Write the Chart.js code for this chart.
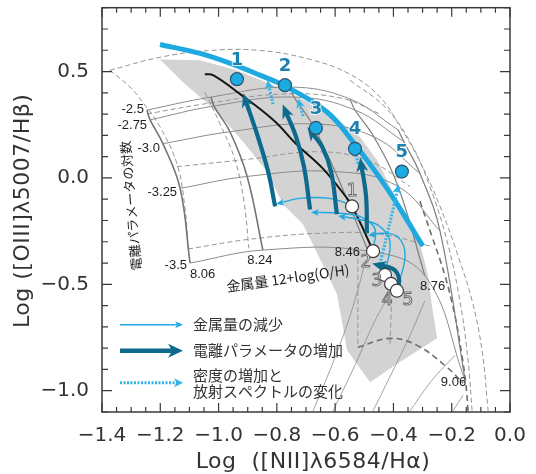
<!DOCTYPE html>
<html><head><meta charset="utf-8">
<script src="https://cdn.jsdelivr.net/npm/chart.js@4/dist/chart.umd.min.js"></script>
<style>html,body{margin:0;padding:0;background:#fff;overflow:hidden}#wrap{width:536px;height:474px}</style>
</head><body><div id="wrap"><canvas id="c" width="536" height="474"></canvas></div>
<script>
// ---------- data ----------
const xTickValues = [-1.4,-1.2,-1.0,-0.8,-0.6,-0.4,-0.2,0.0];
const yTickValues = [-1.0,-0.5,0.0,0.5];
const xTitle = 'Log  ([NII]λ6584/Hα)';
const yTitle = 'Log ([OIII]λ5007/Hβ)';

// shaded region (observed galaxies)
const shadeX = [-1.201,-1.064,-0.937,-0.772,-0.618,-0.515,-0.453,-0.395,-0.336,-0.302,-0.281,-0.268,-0.250,-0.395,-0.480,-0.559,-0.594,-0.652,-0.710,-0.779,-0.834,-0.916,-1.005,-1.122,-1.201];
const shadeY = [0.557,0.553,0.506,0.413,0.301,0.193,0.077,-0.087,-0.213,-0.344,-0.460,-0.600,-0.754,-0.880,-0.960,-0.810,-0.544,-0.381,-0.218,-0.124,0.030,0.170,0.310,0.450,0.557];

// photoionization grid: metallicity 12+log(O/H) x log ionization parameter
const gridZLabels = ['8.06','8.24','8.46','8.76','9.06'];
const gridULabels = ['-2.5','-2.75','-3.0','-3.25','-3.5'];
const gridNodeX = [
  [-1.246,-1.235,-1.191,-1.132,-1.098],
  [-1.026,-1.016,-0.961,-0.902,-0.848],
  [-0.755,-0.741,-0.679,-0.600,-0.487],
  [-0.549,-0.532,-0.467,-0.384,-0.292],
  [-0.384,-0.364,-0.309,-0.240,-0.154]];
const gridNodeY = [
  [0.319,0.273,0.161,-0.049,-0.400],
  [0.380,0.338,0.217,0.007,-0.339],
  [0.427,0.380,0.254,0.030,-0.344],
  [0.371,0.319,0.193,-0.040,-0.460],
  [0.226,0.170,0.021,-0.250,-0.951]];

// second (dashed) grid and other model curves
const dashLeftX = [-1.373,-1.304,-1.253,-1.201,-1.143,-1.115,-1.105];
const dashLeftY = [0.506,0.427,0.343,0.240,0.067,-0.143,-0.330];
const dashTopX = [-1.373,-1.201,-1.029,-0.858,-0.686,-0.549,-0.446,-0.377,-0.309,-0.240,-0.178,-0.130,-0.096,-0.075];
const dashTopY = [0.506,0.567,0.599,0.599,0.557,0.487,0.380,0.240,0.077,-0.134,-0.367,-0.577,-0.810,-1.095];
const dashMidX = [-1.047,-0.995,-0.944,-0.913,-0.896];
const dashMidY = [0.403,0.254,0.086,-0.110,-0.330];
const dashUaX = [-1.246,-1.029,-0.789,-0.583,-0.446];
const dashUaY = [0.301,0.352,0.394,0.376,0.301];
const dashUbX = [-1.143,-0.909,-0.652,-0.480,-0.343];
const dashUbY = [0.053,0.086,0.123,0.077,-0.040];
const dashUcX = [-1.105,-0.892,-0.652,-0.446,-0.275];
const dashUcY = [-0.334,-0.288,-0.260,-0.264,-0.320];
const dashRightX = [-0.549,-0.429,-0.343,-0.275,-0.216,-0.172,-0.144,-0.130];
const dashRightY = [0.459,0.333,0.170,-0.040,-0.297,-0.577,-0.857,-1.095];
const darkDashX = [-0.309,-0.268,-0.223,-0.189,-0.165,-0.151,-0.144];
const darkDashY = [-0.110,-0.274,-0.460,-0.647,-0.834,-0.974,-1.095];
const lowDashX = [-0.522,-0.412,-0.319,-0.216,-0.161];
const lowDashY = [-0.796,-0.754,-0.787,-0.890,-0.965];
const vDashX = [[-0.522,-0.522],[-0.405,-0.412]];
const vDashY = [[-0.344,-0.796],[-0.530,-0.787]];
const lowLinesX = [[-0.676,-0.618,-0.566,-0.528,-0.498],[-0.607,-0.532,-0.463,-0.405],[-0.470,-0.401,-0.343,-0.292],[-0.343,-0.268,-0.189],[-0.196,-0.161]];
const lowLinesY = [[-1.095,-0.904,-0.717,-0.554,-0.400],[-1.095,-0.880,-0.670,-0.530],[-1.095,-0.904,-0.740,-0.577],[-1.095,-0.951,-0.834],[-1.095,-1.021]];

// black track and thick blue upper curve
const trackX = [-1.047,-1.019,-0.926,-0.813,-0.731,-0.642,-0.559,-0.542,-0.508,-0.470];
const trackY = [0.487,0.483,0.394,0.273,0.156,0.044,-0.096,-0.134,-0.227,-0.344];
const upperX = [-1.201,-1.064,-0.951,-0.858,-0.765,-0.628,-0.539,-0.422,-0.299];
const upperY = [0.627,0.585,0.534,0.483,0.427,0.310,0.170,-0.049,-0.320];

// numbered points
const pointLabels = ['1','2','3','4','5'];
const modelX = [-0.937,-0.772,-0.666,-0.532,-0.371];
const modelY = [0.464,0.436,0.235,0.137,0.030];
const startX = [-0.542,-0.470,-0.429,-0.408,-0.388];
const startY = [-0.134,-0.344,-0.456,-0.498,-0.530];

// arrows: ionization parameter increase
const ionArrowsX = [[-0.806,-0.830,-0.865,-0.909],[-0.686,-0.707,-0.734,-0.772],[-0.594,-0.614,-0.645,-0.683],[-0.491,-0.494,-0.511],[-0.384,-0.381,-0.401,-0.453]];
const ionArrowsY = [[-0.134,0.030,0.193,0.371],[-0.148,0.053,0.193,0.319],[-0.171,0.030,0.147,0.217],[-0.260,-0.087,0.067],[-0.521,-0.470,-0.428,-0.409]];
// arrows: metallicity decrease
const metalArrowsX = [[-0.549,-0.618,-0.721,-0.796],[-0.470,-0.463,-0.508,-0.583,-0.676],[-0.429,-0.412,-0.453,-0.522,-0.583],[-0.388,-0.360,-0.384,-0.439,-0.480]];
const metalArrowsY = [[-0.124,-0.096,-0.096,-0.120],[-0.334,-0.241,-0.185,-0.166,-0.162],[-0.446,-0.297,-0.222,-0.194,-0.180],[-0.521,-0.367,-0.278,-0.260,-0.269]];
// arrows: density increase & spectrum change (dotted)
const densArrowsX = [[-0.446,-0.415,-0.384],[-0.813,-0.830],[-0.710,-0.724],[-0.522,-0.528]];
const densArrowsY = [[-0.404,-0.227,-0.045],[0.347,0.445],[0.291,0.357],[0.067,0.114]];
const densArrowHeads = [true,true,true,false];

const legendTexts = [['金属量の減少'],['電離パラメータの増加'],['密度の増加と','放射スペクトルの変化']];
const uAxisTitle = '電離パラメータの対数';
const zAxisTitle = '金属量 12+log(O/H)';

// ---------- styles ----------
const C_LIGHT = '#1fa9e1', C_DARK = '#0e6a8d', C_GRID = '#8a8a8a';
const pts = (xs, ys) => xs.map((x, i) => ({x, y: ys[i]}));
function line(xs, ys, o) {
  return Object.assign({data: pts(xs, ys), showLine: true, pointRadius: 0, pointHoverRadius: 0,
    borderWidth: 1, borderColor: C_GRID, tension: 0.4, fill: false}, o);
}
const layers = [];
layers.push(line(shadeX, shadeY, {fill: 'shape', backgroundColor: '#d3d3d3', borderWidth: 0, borderColor: 'rgba(0,0,0,0)', tension: 0}));
lowLinesX.forEach((xs, i) => layers.push(line(xs, lowLinesY[i], {borderWidth: 0.8, borderColor: '#8c8c8c'})));
[[dashLeftX, dashLeftY],[dashTopX, dashTopY],[dashMidX, dashMidY],[dashUaX, dashUaY],[dashUbX, dashUbY],[dashUcX, dashUcY],[dashRightX, dashRightY]]
  .forEach(([xs, ys]) => layers.push(line(xs, ys, {borderDash: [5, 3], borderColor: '#959595', borderWidth: 1})));
vDashX.forEach((xs, i) => layers.push(line(xs, vDashY[i], {borderDash: [5, 3], borderColor: '#959595', tension: 0})));
layers.push(line(darkDashX, darkDashY, {borderDash: [6, 4], borderColor: '#6e6e6e', borderWidth: 1.6}));
layers.push(line(lowDashX, lowDashY, {borderDash: [6, 4], borderColor: '#6e6e6e', borderWidth: 1.6}));
gridNodeX.forEach((row, i) => layers.push(line(row, gridNodeY[i], {borderWidth: i < 2 ? 1.6 : 1.2, borderColor: i < 2 ? '#747474' : '#7e7e7e'})));
gridULabels.forEach((u, j) => layers.push(line(gridNodeX.map(r => r[j]), gridNodeY.map(r => r[j]), {borderWidth: 1, borderColor: '#8c8c8c'})));
layers.push(line(trackX, trackY, {borderWidth: 2, borderColor: '#151515'}));
layers.push(line(upperX, upperY, {borderWidth: 5, borderColor: C_LIGHT}));
metalArrowsX.forEach((xs, i) => layers.push(line(xs, metalArrowsY[i], {borderWidth: 1.4, borderColor: C_LIGHT, arrowHead: {len: 8, w: 3.5, ext: 2, color: C_LIGHT}})));
densArrowsX.forEach((xs, i) => layers.push(line(xs, densArrowsY[i], {borderWidth: 3, borderDash: [2, 1.5], borderColor: '#35b2e6', tension: 0.3,
  arrowHead: densArrowHeads[i] ? {len: 9, w: 4.5, ext: 3, color: '#35b2e6'} : null})));
ionArrowsX.forEach((xs, i) => layers.push(line(xs, ionArrowsY[i], {borderWidth: 4.2, borderColor: C_DARK, arrowHead: {len: 14, w: 6, ext: 6, color: C_DARK}})));
layers.push({data: pts(startX, startY), showLine: false, pointRadius: 6.5, pointHoverRadius: 6.5, pointBackgroundColor: '#ffffff', pointBorderColor: '#3a3a3a', pointBorderWidth: 1.2});
layers.push({data: pts(modelX, modelY), showLine: false, pointRadius: 6.5, pointHoverRadius: 6.5, pointBackgroundColor: '#1caae3', pointBorderColor: '#2c5468', pointBorderWidth: 1.2});
layers.forEach((d, i) => { d.order = layers.length - i; });

// label placement styles (pixel offsets)
const uLabelDy = [-1, 6, 5, 4, 2];
const zLabelStyle = [{a: 'left', dx: 0, dy: 11}, {a: 'center', dx: -3, dy: 10}, {a: 'right', dx: -8, dy: 1}, {a: 'left', dx: -5, dy: 11}, {a: 'right', dx: 1, dy: 2}];
const startLabelOff = [[0, -15], [-7, 11], [-8, 7], [-4, 17], [11, 10]];

function head(ctx, x, y, ang, h) {
  const c = Math.cos(ang), s = Math.sin(ang);
  const tx = x + c * h.ext, ty = y + s * h.ext;
  const bx = tx - c * h.len, by = ty - s * h.len;
  const nx = tx - c * h.len * 0.72, ny = ty - s * h.len * 0.72;
  ctx.save(); ctx.fillStyle = h.color; ctx.beginPath();
  ctx.moveTo(tx, ty); ctx.lineTo(bx - s * h.w, by + c * h.w); ctx.lineTo(nx, ny); ctx.lineTo(bx + s * h.w, by - c * h.w);
  ctx.closePath(); ctx.fill(); ctx.restore();
}
const fmt = v => Math.abs(v) < 1e-9 ? '0.0' : (v < 0 ? '\u2212' : '') + Math.abs(v).toFixed(1);

const decor = {
  id: 'decor',
  afterDatasetDraw(chart, args) {
    const ds = chart.data.datasets[args.index];
    if (!ds.arrowHead) return;
    const p = args.meta.data, n = p.length, e = p[n - 1];
    let r = p[n - 2];
    if (e.cp1x !== undefined && Math.abs(e.cp1x - e.x) + Math.abs(e.cp1y - e.y) > 0.5) r = {x: e.cp1x, y: e.cp1y};
    head(chart.ctx, e.x, e.y, Math.atan2(e.y - r.y, e.x - r.x), ds.arrowHead);
  },
  afterDraw(chart) {
    const ctx = chart.ctx, a = chart.chartArea, sx = chart.scales.x, sy = chart.scales.y;
    const X = v => sx.getPixelForValue(v), Y = v => sy.getPixelForValue(v);
    ctx.save();
    // frame + inward ticks
    ctx.strokeStyle = '#3a3a3a'; ctx.lineWidth = 1.5;
    ctx.strokeRect(a.left, a.top, a.right - a.left, a.bottom - a.top);
    ctx.lineWidth = 1.2; ctx.beginPath();
    for (let k = 0; k <= 28; k++) {
      const v = -1.4 + k * 0.05, px = X(v), len = (k % 4 === 0) ? 9 : 5;
      ctx.moveTo(px, a.bottom); ctx.lineTo(px, a.bottom - len);
      ctx.moveTo(px, a.top); ctx.lineTo(px, a.top + len);
    }
    for (let k = 0; k <= 19; k++) {
      const v = -1.1 + k * 0.1, py = Y(v), len = (k % 5 === 1) ? 10 : 6;
      ctx.moveTo(a.left, py); ctx.lineTo(a.left + len, py);
      ctx.moveTo(a.right, py); ctx.lineTo(a.right - len, py);
    }
    ctx.stroke();
    // axis titles
    ctx.fillStyle = '#333'; ctx.font = '22px "DejaVu Sans"'; ctx.textAlign = 'center'; ctx.textBaseline = 'middle';
    if ('letterSpacing' in ctx) ctx.letterSpacing = '0.5px';
    ctx.fillText(xTitle, (a.left + a.right) / 2 + 7, a.bottom + 50);
    ctx.save(); ctx.translate(a.left - 79, (a.top + a.bottom) / 2 + 1); ctx.rotate(-Math.PI / 2); ctx.fillText(yTitle, 0, 0); ctx.restore();
    if ('letterSpacing' in ctx) ctx.letterSpacing = '0px';
    // grid labels
    ctx.fillStyle = '#1e1e1e'; ctx.font = '13px "Liberation Sans"';
    gridULabels.forEach((t, j) => { ctx.textAlign = 'right'; ctx.fillText(t, X(gridNodeX[0][j]) - 3, Y(gridNodeY[0][j]) + uLabelDy[j]); });
    gridZLabels.forEach((t, i) => { const s = zLabelStyle[i]; ctx.textAlign = s.a; ctx.fillText(t, X(gridNodeX[i][4]) + s.dx, Y(gridNodeY[i][4]) + s.dy); });
    // rotated grid axis names
    ctx.font = '13px "Noto Sans CJK JP"'; ctx.textAlign = 'center';
    ctx.save(); ctx.translate(X(gridNodeX[0][2]) - 32, Y(gridNodeY[0][2]) + 62); ctx.rotate(-95 * Math.PI / 180); ctx.fillText(uAxisTitle, 0, 0); ctx.restore();
    ctx.font = '14px "Noto Sans CJK JP"';
    ctx.save(); ctx.translate(X(gridNodeX[1][4]) + 25, Y(gridNodeY[1][4]) + 28); ctx.rotate(-8 * Math.PI / 180); ctx.fillText(zAxisTitle, 0, 0); ctx.restore();
    // numbers on model (blue) points
    ctx.font = 'bold 18px "DejaVu Sans"'; ctx.textAlign = 'center';
    ctx.lineWidth = 2; ctx.strokeStyle = 'rgba(255,255,255,0.8)'; ctx.fillStyle = '#1d82b2';
    pointLabels.forEach((t, i) => { const px = X(modelX[i]), py = Y(modelY[i]) - 19; ctx.strokeText(t, px, py); ctx.fillText(t, px, py); });
    // numbers on start (white) points: outlined
    ctx.font = '17px "DejaVu Sans"'; ctx.lineWidth = 1; ctx.strokeStyle = '#6a6a6a'; ctx.fillStyle = '#ffffff';
    pointLabels.forEach((t, i) => { const px = X(startX[i]) + startLabelOff[i][0], py = Y(startY[i]) + startLabelOff[i][1]; ctx.fillText(t, px, py); ctx.strokeText(t, px, py); });
    // legend
    const lx0 = a.left + 18, lx1 = a.left + 81, ly = [a.top + 317, a.top + 343, a.top + 375];
    const styles = [{w: 1.4, c: C_LIGHT, dash: [], h: {len: 8, w: 3.5, ext: 0, color: C_LIGHT}},
                    {w: 4.5, c: C_DARK, dash: [], h: {len: 15, w: 7, ext: 0, color: C_DARK}},
                    {w: 3, c: '#35b2e6', dash: [2, 1.5], h: {len: 9, w: 4.5, ext: 0, color: '#35b2e6'}}];
    styles.forEach((s, i) => {
      ctx.save(); ctx.strokeStyle = s.c; ctx.lineWidth = s.w; ctx.setLineDash(s.dash);
      ctx.beginPath(); ctx.moveTo(lx0, ly[i]); ctx.lineTo(lx1 - s.h.len * 0.6, ly[i]); ctx.stroke(); ctx.restore();
      head(ctx, lx1, ly[i], 0, s.h);
    });
    ctx.font = '15px "Noto Sans CJK JP"'; ctx.fillStyle = '#333'; ctx.textAlign = 'left';
    ctx.fillText(legendTexts[0][0], a.left + 91, ly[0]);
    ctx.fillText(legendTexts[1][0], a.left + 91, ly[1]);
    ctx.fillText(legendTexts[2][0], a.left + 91, ly[2] - 7);
    ctx.fillText(legendTexts[2][1], a.left + 91, ly[2] + 9);
    ctx.restore();
  }
};

const tickFont = {family: 'DejaVu Sans', size: 20};
new Chart(document.getElementById('c'), {
  type: 'scatter',
  data: {datasets: layers},
  options: {
    responsive: false, animation: false, devicePixelRatio: 1,
    layout: {padding: {top: 5, right: 26, bottom: 0, left: 0}},
    plugins: {legend: {display: false}, tooltip: {enabled: false}},
    events: [],
    scales: {
      x: {type: 'linear', min: -1.4, max: 0.0,
        afterBuildTicks: s => { s.ticks = xTickValues.map(v => ({value: v})); },
        afterFit: s => { s.height = 62; s.paddingLeft = 0; s.paddingRight = 0; },
        ticks: {callback: v => fmt(v), font: tickFont, color: '#333', padding: 12, maxRotation: 0, autoSkip: false},
        grid: {display: false, drawTicks: false}, border: {display: false}},
      y: {type: 'linear', min: -1.1, max: 0.8,
        afterBuildTicks: s => { s.ticks = yTickValues.map(v => ({value: v})); },
        afterFit: s => { s.width = 102; s.paddingTop = 0; s.paddingBottom = 0; },
        ticks: {callback: v => fmt(v), font: tickFont, color: '#333', padding: 13, autoSkip: false},
        grid: {display: false, drawTicks: false}, border: {display: false}}
    }
  },
  plugins: [decor]
});
</script></body></html>
